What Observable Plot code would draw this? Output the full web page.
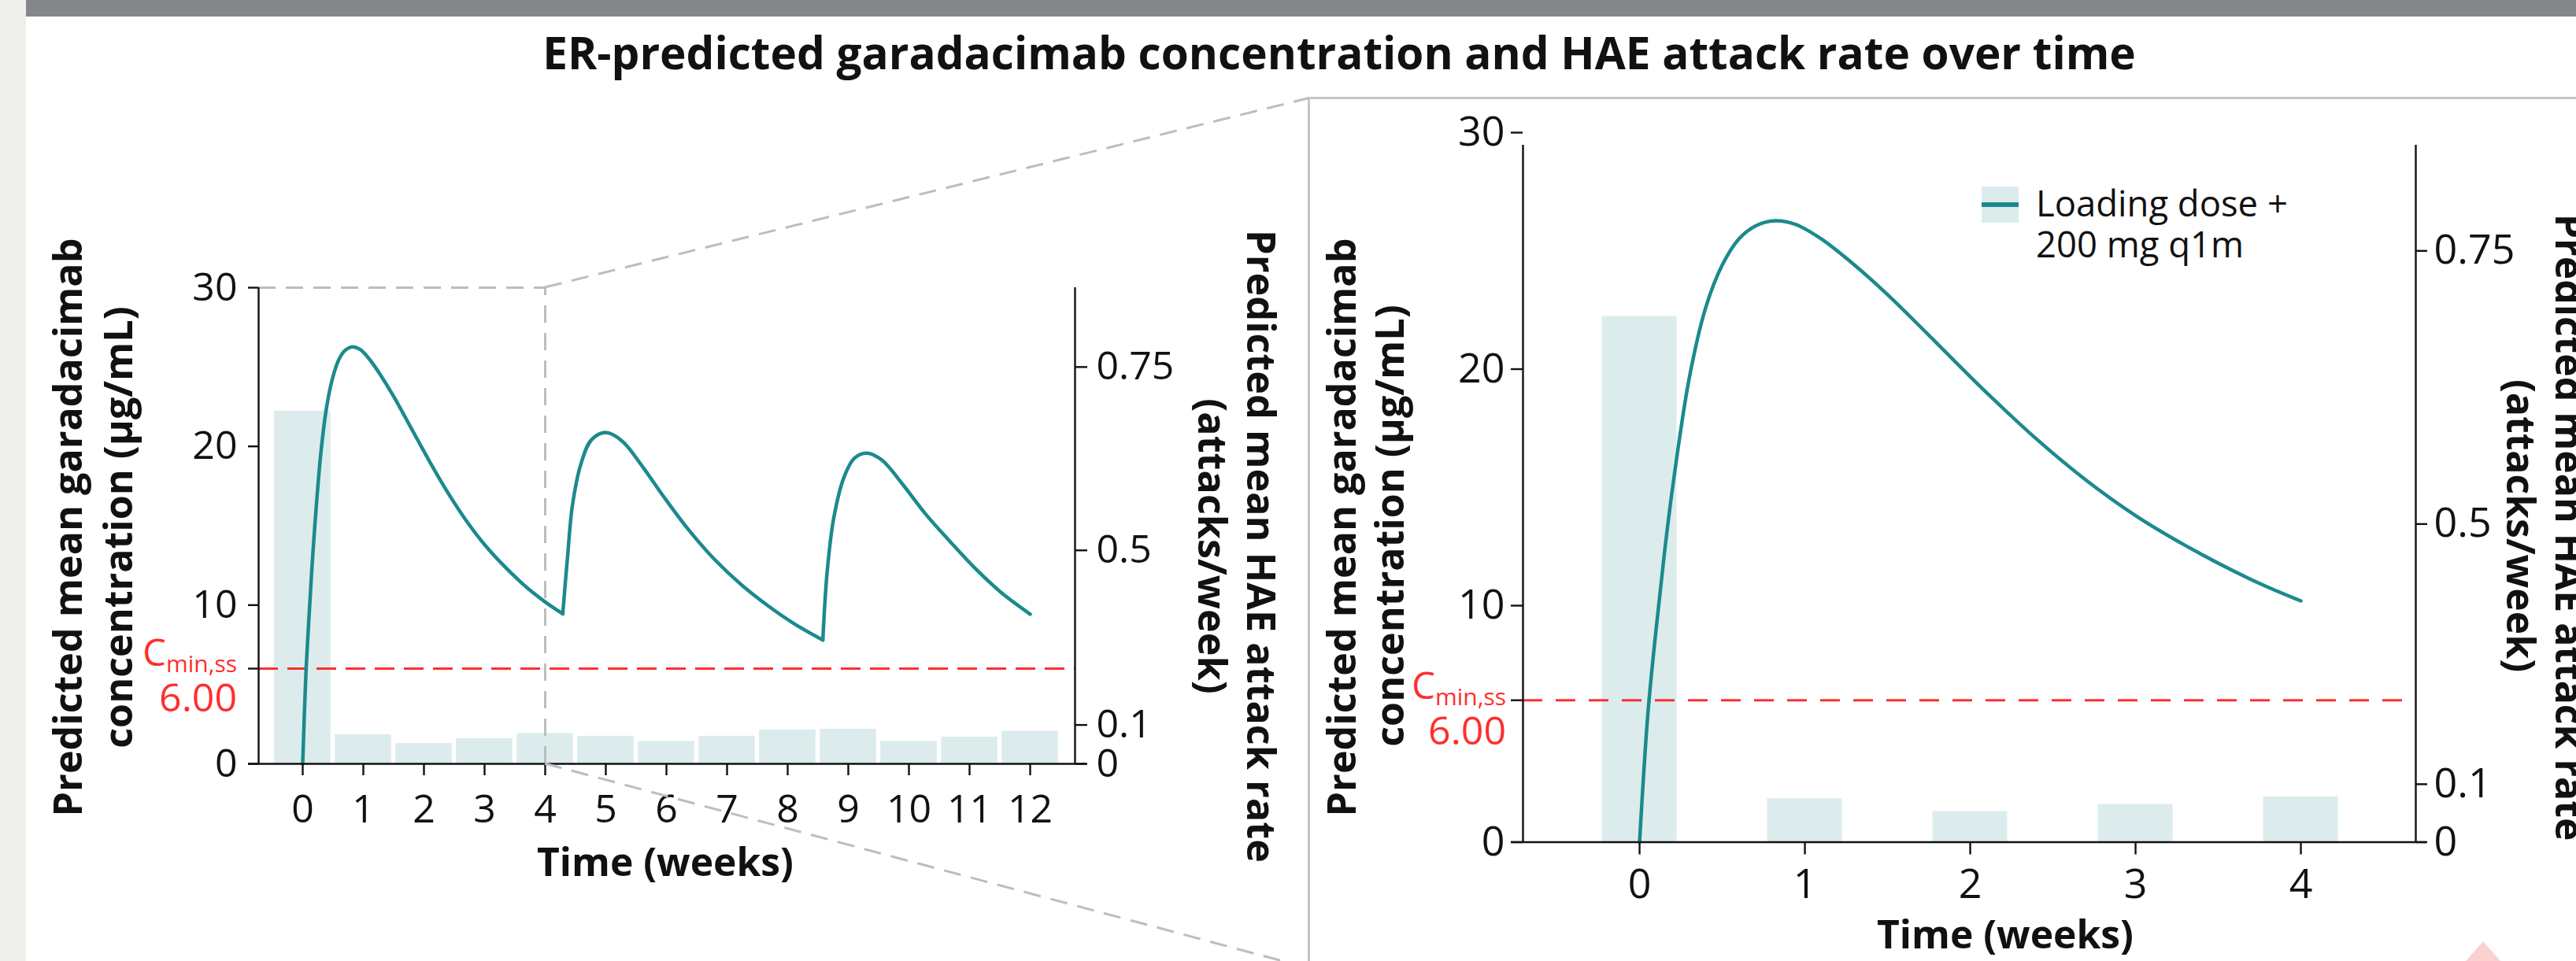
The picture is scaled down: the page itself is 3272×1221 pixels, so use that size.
<!DOCTYPE html>
<html>
<head>
<meta charset="utf-8">
<script src="https://cdn.jsdelivr.net/npm/d3@7"></script>
<script src="https://cdn.jsdelivr.net/npm/@observablehq/plot@0.6"></script>
<style>
html, body { margin: 0; padding: 0; background: #fff; }
#page { position: relative; width: 3272px; height: 1221px; overflow: hidden; background: #fff; }
#page svg { background: transparent !important; max-width: none !important; }
.abs { position: absolute; }
</style>
</head>
<body>
<div id="page"></div>
<script>
// ---------------- data ----------------
const titleText = "ER-predicted garadacimab concentration and HAE attack rate over time";
const concTitle = ["Predicted mean garadacimab", "concentration (\u00b5g/mL)"];
const rateTitle = ["Predicted mean HAE attack rate", "(attacks/week)"];
const timeTitle = "Time (weeks)";
const legendLabel = ["Loading dose +", "200 mg q1m"];

// predicted mean concentration (µg/mL), one array per dosing interval [week, conc]
const pkDose1 = [[0,0],[0.05,5.4],[0.1,9.0],[0.15,12.2],[0.2,15.0],[0.3,19.6],[0.4,22.6],[0.5,24.4],[0.6,25.5],[0.7,26.05],[0.82,26.27],[0.95,26.1],[1.1,25.5],[1.3,24.4],[1.5,23.15],[1.7,21.78],[1.9,20.38],[2.1,19.0],[2.4,17.05],[2.7,15.31],[3.0,13.81],[3.3,12.55],[3.6,11.44],[3.8,10.78],[4.0,10.2],[4.29,9.45]];
const pkDose2 = [[4.29,9.45],[4.37,13.1],[4.45,16.3],[4.59,18.9],[4.76,20.4],[5.0,20.87],[5.27,20.33],[5.61,18.7],[5.95,16.86],[6.34,14.87],[6.79,12.89],[7.24,11.27],[7.69,9.92],[8.14,8.75],[8.58,7.8]];
const pkDose3 = [[8.58,7.8],[8.65,12.05],[8.76,15.49],[8.93,18.07],[9.1,19.26],[9.3,19.58],[9.55,19.15],[9.89,17.64],[10.28,15.71],[10.68,14.0],[11.07,12.4],[11.52,10.8],[12.0,9.43]];

// predicted mean HAE attack rate per week (attacks/week)
const attackWeeks = [0,1,2,3,4,5,6,7,8,9,10,11,12];
const attackRate  = [0.69,0.075,0.053,0.065,0.078,0.071,0.058,0.071,0.087,0.089,0.058,0.069,0.084];

const concTicks = [0, 10, 20, 30];
const concDomain = [0, 30];
const cminValue = 6;
const cminLabel = "6.00";
const rateTicks = [0, 0.1, 0.5, 0.75];
const rateTickLabels = ["0", "0.1", "0.5", "0.75"];
const rateAxisConcEquiv = [0, 2.45, 13.45, 25.0];   // level on the conc axis where each rate tick sits
const weekTicksFull = [0,1,2,3,4,5,6,7,8,9,10,11,12];
const weekTicksZoom = [0,1,2,3,4];
const zoomEnd = 4;

// ---------------- styles ----------------
const FONT = "'Open Sans', 'Noto Sans', sans-serif";
const TEAL = "#1b8a8e", BAR = "#dcecec", RED = "#ff2e2e", GRAY = "#bdbdbd", INK = "#111";

const page = d3.select("#page");
page.append("div").attr("class","abs").style("left","0px").style("top","0px").style("width","33px").style("height","1221px").style("background","#efefeb");
page.append("div").attr("class","abs").style("left","33px").style("top","0px").style("width","3239px").style("height","21px").style("background","#858689");
page.append("div").attr("class","abs").style("left","1661px").style("top","123px").style("width","1800px").style("height","1300px").style("border","3px solid #c5c5c5").style("box-sizing","border-box");

const rateToConc = d3.scaleLinear(rateTicks, rateAxisConcEquiv);
const rateLabelAt = new Map(rateAxisConcEquiv.map((c, i) => [c, rateTickLabels[i]]));
const pk = [pkDose1, pkDose2, pkDose3].flatMap((seg, i) => seg.map(([week, conc]) => ({week, conc, dose: i + 1})));
const attack = attackWeeks.map((week, i) => ({week, rate: attackRate[i], level: rateToConc(attackRate[i])}));

function panel(o) {
  const [x0, x1] = o.xDomain;
  const marks = [
    Plot.rect(o.bars, {x1: d => d.week - 0.5, x2: d => d.week + 0.5, y1: 0, y2: "level", fill: BAR, insetLeft: o.barInset, insetRight: o.barInset})
  ];
  if (o.connectors) {
    marks.push(Plot.ruleY([concDomain[1]], {x1: x0, x2: zoomEnd, stroke: GRAY, strokeWidth: 3, strokeDasharray: "22,13"}));
    marks.push(Plot.ruleX([zoomEnd], {y1: 0, y2: concDomain[1], stroke: GRAY, strokeWidth: 3, strokeDasharray: "22,13"}));
  }
  marks.push(
    Plot.ruleY([cminValue], {x1: x0, x2: x1, stroke: RED, strokeWidth: 3, strokeDasharray: o.redDash}),
    Plot.line(o.pk, {x: "week", y: "conc", z: "dose", stroke: TEAL, strokeWidth: 4.5, curve: "catmull-rom"}),
    Plot.ruleY([0], {x1: x0, x2: x1, insetLeft: -o.tickY, insetRight: -o.tickR, stroke: INK, strokeWidth: 2.4}),
    Plot.ruleX([x0, x1], {y1: 0, y2: concDomain[1], insetBottom: -o.axisExt, stroke: INK, strokeWidth: 2.4}),
    Plot.axisY({ticks: [...concTicks, cminValue], tickFormat: d => d === cminValue ? "" : String(d), tickSize: o.tickY, tickPadding: o.padY, label: null, strokeWidth: 2.4, fontSize: o.fs}),
    Plot.axisY({anchor: "right", ticks: rateAxisConcEquiv, tickFormat: d => rateLabelAt.get(d), tickSize: o.tickR, tickPadding: o.padR, label: null, strokeWidth: 2.4, fontSize: o.fs}),
    Plot.axisX({ticks: o.xTicks, tickFormat: d => String(d), tickSize: o.tickX, tickPadding: o.padX, label: null, strokeWidth: 2.4, fontSize: o.fs})
  );
  const p = Plot.plot({
    width: o.width, height: o.height,
    marginLeft: o.ml, marginRight: o.mr, marginTop: o.mt, marginBottom: o.mb,
    x: {domain: o.xDomain}, y: {domain: concDomain},
    style: {fontFamily: FONT, fontSize: o.fs + "px", fontWeight: 400, color: INK, background: "transparent", overflow: "visible"},
    marks
  });
  // make sure the tick labels use the intended size
  d3.select(p).selectAll("g[aria-label$='tick label'], g[aria-label$='tick label'] text")
    .style("font-size", o.fs + "px").style("font-family", FONT).style("font-weight", 400);
  p.style.position = "absolute"; p.style.left = o.left + "px"; p.style.top = o.top + "px";
  page.node().appendChild(p);
  const sx = p.scale("x"), sy = p.scale("y");
  return {x: v => o.left + sx.apply(v), y: v => o.top + sy.apply(v)};
}

const L = panel({
  left: 180, top: 300, width: 1320, height: 921, ml: 148, mr: 135, mt: 65, mb: 251,
  xDomain: [-0.727, 12.74], xTicks: weekTicksFull, bars: attack, pk, barInset: 2.7,
  tickY: 13, padY: 14, tickR: 15, padR: 12, tickX: 15, padX: 24, axisExt: 0, fs: 50,
  redDash: "25,12", connectors: true
});
const R = panel({
  left: 1700, top: 130, width: 1572, height: 1091, ml: 234, mr: 204, mt: 38, mb: 151.5,
  xDomain: [-0.705, 4.695], xTicks: weekTicksZoom, bars: attack.filter(d => d.week <= zoomEnd),
  pk: pk.filter(d => d.week <= zoomEnd), barInset: 57.5,
  tickY: 15, padY: 8, tickR: 14, padR: 9, tickX: 16, padX: 18, axisExt: 16, fs: 52,
  redDash: "25,17", connectors: false
});

// ---------------- overlay: texts, legend, connectors ----------------
const ov = page.append("svg").attr("width", 3272).attr("height", 1221)
  .style("position", "absolute").style("left", "0px").style("top", "0px").style("overflow", "hidden");

function txt(str, o) {
  const t = ov.append("text").text(str)
    .attr("font-family", FONT).attr("font-weight", o.w || 400)
    .attr("fill", o.fill || INK).attr("text-anchor", o.anchor || "middle");
  if (o.baseline) t.attr("dominant-baseline", o.baseline);
  let size = o.size || 40;
  t.attr("font-size", size);
  if (o.fit) { const len = t.node().getComputedTextLength(); size = size * o.fit / len; t.attr("font-size", size); }
  if (o.rotate) t.attr("transform", `translate(${o.x},${o.y}) rotate(${o.rotate})`);
  else t.attr("x", o.x).attr("y", o.y);
  return size;
}

// connectors to the zoom box
const boxCorner = {x: 1662.5, top: 124.5, bottom: 1230};
ov.append("line").attr("x1", L.x(zoomEnd)).attr("y1", L.y(concDomain[1])).attr("x2", boxCorner.x).attr("y2", boxCorner.top)
  .attr("stroke", GRAY).attr("stroke-width", 3).attr("stroke-dasharray", "22,13");
ov.append("line").attr("x1", L.x(zoomEnd)).attr("y1", L.y(0)).attr("x2", boxCorner.x).attr("y2", boxCorner.bottom)
  .attr("stroke", GRAY).attr("stroke-width", 3).attr("stroke-dasharray", "22,13");

// title
txt(titleText, {x: 1701, y: 88, w: 700, fit: 2024});

// axis titles
let s = txt(concTitle[0], {x: 84, y: 670, w: 700, rotate: -90, baseline: "central", fit: 735});
txt(concTitle[1], {x: 148, y: 670, w: 700, rotate: -90, baseline: "central", size: s});
s = txt(rateTitle[0], {x: 1603, y: 694, w: 700, rotate: 90, baseline: "central", fit: 804});
txt(rateTitle[1], {x: 1541, y: 694, w: 700, rotate: 90, baseline: "central", size: s});
s = txt(concTitle[0], {x: 1702, y: 670, w: 700, rotate: -90, baseline: "central", fit: 735});
txt(concTitle[1], {x: 1763, y: 668, w: 700, rotate: -90, baseline: "central", size: s});
s = txt(rateTitle[0], {x: 3265, y: 670, w: 700, rotate: 90, baseline: "central", fit: 797});
txt(rateTitle[1], {x: 3203, y: 668, w: 700, rotate: 90, baseline: "central", size: s});
txt(timeTitle, {x: 845, y: 1113, w: 700, fit: 326});
txt(timeTitle, {x: 2547, y: 1205, w: 700, fit: 326});

// Cmin,ss labels
function cmin(P, right, dyC, dyV) {
  const yl = P.y(cminValue);
  const t = ov.append("text").attr("x", right).attr("y", yl + dyC).attr("text-anchor", "end")
    .attr("font-family", FONT).attr("font-weight", 400).attr("fill", RED);
  t.append("tspan").attr("font-size", 47).text("C");
  t.append("tspan").attr("font-size", 30).attr("dy", 8).text("min,ss");
  txt(cminLabel, {x: right, y: yl + dyV, anchor: "end", fill: RED, w: 400, fit: 99});
}
cmin(L, L.x(-0.727) - 27, -3, 54.5);
cmin(R, R.x(-0.705) - 21, -1, 57);

// legend
ov.append("rect").attr("x", 2517).attr("y", 237).attr("width", 47).attr("height", 46).attr("fill", BAR);
ov.append("line").attr("x1", 2517).attr("x2", 2564).attr("y1", 260).attr("y2", 260).attr("stroke", TEAL).attr("stroke-width", 6);
s = txt(legendLabel[0], {x: 2586, y: 275, anchor: "start", w: 400, fit: 320});
txt(legendLabel[1], {x: 2586, y: 327, anchor: "start", w: 400, size: s});

// corner mark
ov.append("polygon").attr("points", "3154,1196 3132,1221 3176,1221").attr("fill", "#fbd0d0");
</script>
</body>
</html>
